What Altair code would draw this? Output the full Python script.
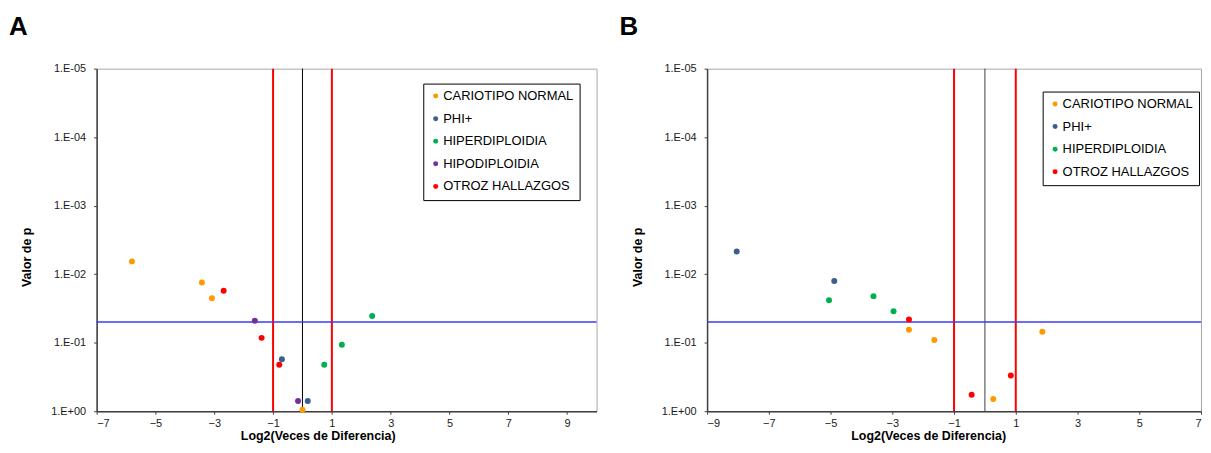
import altair as alt
import pandas as pd

FONT = "Liberation Sans"

# ---- categories / colours ----
CATS_A = ["CARIOTIPO NORMAL", "PHI+", "HIPERDIPLOIDIA", "HIPODIPLOIDIA", "OTROZ HALLAZGOS"]
COLS_A = ["#FF9900", "#3A5F8F", "#00B050", "#7030A0", "#FF0000"]
CATS_B = ["CARIOTIPO NORMAL", "PHI+", "HIPERDIPLOIDIA", "OTROZ HALLAZGOS"]
COLS_B = ["#FF9900", "#3A5F8F", "#00B050", "#FF0000"]

# ---- panel A data ----
a_group = ["CARIOTIPO NORMAL", "CARIOTIPO NORMAL", "CARIOTIPO NORMAL", "CARIOTIPO NORMAL",
           "OTROZ HALLAZGOS", "OTROZ HALLAZGOS", "OTROZ HALLAZGOS",
           "HIPODIPLOIDIA", "HIPODIPLOIDIA",
           "PHI+", "PHI+",
           "HIPERDIPLOIDIA", "HIPERDIPLOIDIA", "HIPERDIPLOIDIA"]
a_log2 = [-5.80, -3.42, -3.08, 0.00,
          -2.68, -1.39, -0.79,
          -1.62, -0.15,
          -0.70, 0.18,
          0.74, 1.34, 2.37]
a_p = [0.0065, 0.0132, 0.0224, 0.955,
       0.0174, 0.085, 0.209,
       0.0479, 0.708,
       0.174, 0.708,
       0.209, 0.107, 0.0407]

# ---- panel B data ----
b_group = ["PHI+", "PHI+",
           "HIPERDIPLOIDIA", "HIPERDIPLOIDIA", "HIPERDIPLOIDIA",
           "OTROZ HALLAZGOS", "OTROZ HALLAZGOS", "OTROZ HALLAZGOS",
           "CARIOTIPO NORMAL", "CARIOTIPO NORMAL", "CARIOTIPO NORMAL", "CARIOTIPO NORMAL"]
b_log2 = [-8.04, -4.88,
          -5.05, -3.61, -2.96,
          -2.46, -0.43, 0.84,
          -2.46, -1.64, 0.27, 1.86]
b_p = [0.00468, 0.0126,
       0.0240, 0.0209, 0.0347,
       0.0457, 0.575, 0.302,
       0.0646, 0.0912, 0.661, 0.0692]

# ---- reference lines / ticks ----
P_CUT = [0.05]
FC_CUTS = [-1, 1]
CENTER = [0]
Y_TICKS = [1e-5, 1e-4, 1e-3, 1e-2, 1e-1, 1]
A_XDOM = [-7, 10]
A_XTICKS = [-7, -5, -3, -1, 1, 3, 5, 7, 9]
B_XDOM = [-9, 7]
B_XTICKS = [-9, -7, -5, -3, -1, 1, 3, 5, 7]

Y_LABEL_EXPR = "'1.E' + (datum.value >= 1 ? '+00' : '-0' + round(-log(datum.value) / LN10))"


def panel(letter, groups, log2, pvals, cats, cols, xdom, xticks, w, lx, ly, tx, ccol):
    df = pd.DataFrame({"lfc": log2, "p": pvals, "grupo": groups})
    x_enc = alt.X(
        "lfc:Q",
        scale=alt.Scale(domain=xdom, nice=False, zero=False),
        axis=alt.Axis(values=xticks, title="Log2(Veces de Diferencia)",
                      titleX=tx, titleY=28, titleBaseline="alphabetic",
                      titleAlign="center"),
    )
    y_enc = alt.Y(
        "p:Q",
        scale=alt.Scale(type="log", domain=[1e-5, 1], reverse=True, nice=False),
        axis=alt.Axis(values=Y_TICKS, labelExpr=Y_LABEL_EXPR, title="Valor de p",
                      titleX=-63, titleY=189),
    )
    vlines = alt.Chart(pd.DataFrame({"lfc": FC_CUTS})).mark_rule(
        color="#FF0000", strokeWidth=2).encode(x=x_enc)
    cline = alt.Chart(pd.DataFrame({"lfc": CENTER})).mark_rule(
        color=ccol, strokeWidth=1).encode(x=x_enc)
    hline = alt.Chart(pd.DataFrame({"p": P_CUT})).mark_rule(
        color="#3A3AF5", strokeWidth=1.5).encode(y=y_enc)
    pts = alt.Chart(df).mark_circle(size=36, opacity=1).encode(
        x=x_enc,
        y=y_enc,
        color=alt.Color(
            "grupo:N",
            scale=alt.Scale(domain=cats, range=cols),
            legend=alt.Legend(
                orient="none", legendX=lx, legendY=ly, title=None,
                labelFont=FONT, labelFontSize=13, labelColor="black",
                symbolType="circle", symbolSize=25, symbolStrokeWidth=0,
                padding=6, rowPadding=8.7, labelOffset=1,
                strokeColor="black", fillColor="white", labelLimit=300,
            ),
        ),
    )
    return alt.layer(vlines, cline, hline, pts).properties(
        width=w, height=344,
        title=alt.TitleParams(letter, anchor="start", frame="group", dx=-88,
                              fontSize=26, fontWeight="bold", font=FONT,
                              offset=2, baseline="alphabetic", color="black"),
    )


pa = panel("A", a_group, a_log2, a_p, CATS_A, COLS_A, A_XDOM, A_XTICKS, 502, 328, 15, 222, "#000000")
pb = panel("B", b_group, b_log2, b_p, CATS_B, COLS_B, B_XDOM, B_XTICKS, 496, 337, 23, 222, "#404040")

chart = (
    alt.hconcat(pa, pb, spacing=20)
    .resolve_scale(color="independent", x="independent", y="independent")
    .resolve_legend(color="independent")
    .properties(padding={"left": 0, "top": 4, "right": 0, "bottom": 0},
                background="white")
    .configure_view(stroke="#A6A6A6", strokeWidth=1)
    .configure_axis(grid=False, domainColor="#404040", domainWidth=1.5,
                    tickColor="#404040", tickSize=3, tickWidth=1,
                    labelFont=FONT, labelFontSize=11, labelColor="#1A1A1A",
                    titleFont=FONT, titleFontSize=12.5, titleFontWeight="bold",
                    titleColor="black")
    .configure_axisX(labelPadding=3)
    .configure_axisY(labelPadding=8)
)

chart.save("out.html", embed_options={"renderer": "svg", "actions": False})
